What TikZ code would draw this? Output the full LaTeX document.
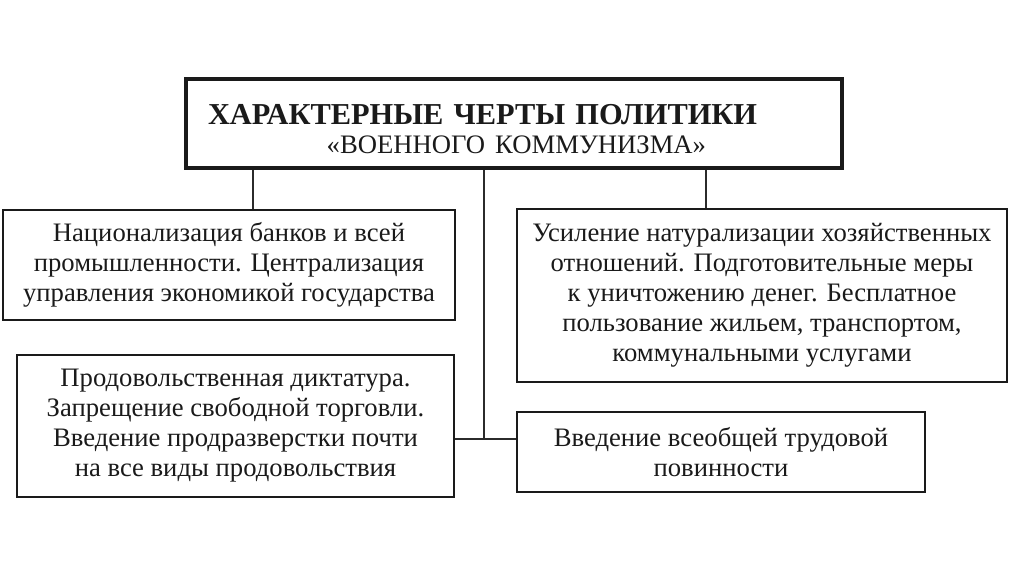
\documentclass[tikz,border=0pt]{standalone}
\usepackage{fontspec}
\setmainfont{Liberation Serif}
\usetikzlibrary{positioning,calc}
\definecolor{inkBlack}{HTML}{1A1A1A}
\definecolor{lineGray}{HTML}{2B2B2B}

\begin{document}
\begin{tikzpicture}[
  x=0.75pt, y=-0.75pt,
  link/.style={draw=lineGray, line width=1.1pt},
  headbox/.style={
    rectangle,
    draw=inkBlack,
    line width=2.3pt,
    align=left,
    text width=459pt,
    inner xsep=16.5pt,
    minimum height=66.75pt,
    font=\fontsize{22.8}{21.5}\selectfont,
    text=inkBlack
  },
  itembox/.style={
    rectangle,
    draw=inkBlack,
    line width=1.6pt,
    align=center,
    inner sep=2pt,
    font=\fontsize{20}{22.5}\selectfont,
    text=inkBlack
  }
]
  \useasboundingbox (0,0) rectangle (1024,574);

  % Title
  \node[headbox] (title) at (514,123.5)
    {\rule{0pt}{23pt}\textbf{ХАРАКТЕРНЫЕ ЧЕРТЫ ПОЛИТИКИ}\\
     \hspace*{89pt}{\fontsize{20}{21.5}\selectfont«ВОЕННОГО КОММУНИЗМА»}};

  % Features
  \node[itembox, minimum width=339pt, minimum height=82.5pt] (nation) at (229,265)
    {Национализация банков и всей\\промышленности. Централизация\\управления экономикой государства};
  \node[itembox, minimum width=327.75pt, minimum height=106.5pt] (food) at (235.5,426)
    {Продовольственная диктатура.\\Запрещение свободной торговли.\\Введение продразверстки почти\\на все виды продовольствия};
  \node[itembox, minimum width=367.5pt, minimum height=129.75pt] (barter) at (762,295.5)
    {Усиление натурализации хозяйственных\\отношений. Подготовительные меры\\к уничтожению денег. Бесплатное\\пользование жильем, транспортом,\\коммунальными услугами};
  \node[itembox, minimum width=306pt, minimum height=60pt] (labour) at (721,452)
    {Введение всеобщей трудовой\\повинности};

  % Connectors
  \coordinate (hub) at (484,439);
  \draw[link] ([xshift=18pt]nation.north) -- ([xshift=18pt]nation.north |- title.south);
  \draw[link] ([xshift=-42pt]barter.north) -- ([xshift=-42pt]barter.north |- title.south);
  \draw[link] (title.south -| hub) -- (hub);
  \draw[link] (food.east |- hub) -- (labour.west |- hub);
\end{tikzpicture}
\end{document}
